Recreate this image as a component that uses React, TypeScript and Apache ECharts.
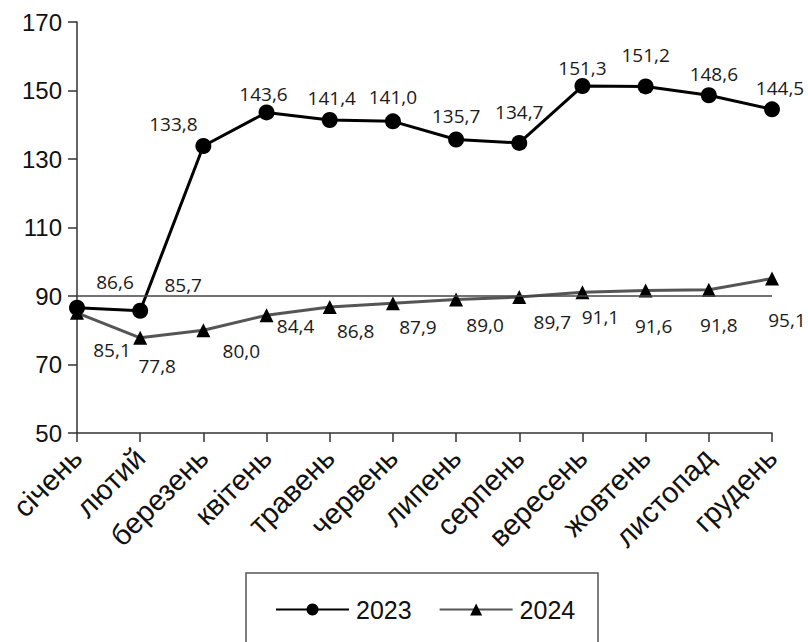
import React, { useEffect, useRef } from "react";
import * as echarts from "echarts";

const months = [
  "січень", "лютий", "березень", "квітень", "травень", "червень",
  "липень", "серпень", "вересень", "жовтень", "листопад", "грудень",
];
const values2023 = [86.6, 85.7, 133.8, 143.6, 141.4, 141.0, 135.7, 134.7, 151.3, 151.2, 148.6, 144.5];
const values2024 = [85.1, 77.8, 80.0, 84.4, 86.8, 87.9, 89.0, 89.7, 91.1, 91.6, 91.8, 95.1];
const referenceLevel = 90;
const yTicks = { min: 50, max: 170, interval: 20 };

// label placement offsets (style only)
const off2023: [number, number][] = [
  [38, -26], [43, -26], [-30, -22], [-3, -18], [2, -22], [0, -24],
  [0, -23], [0, -31], [0, -18], [0, -31], [5, -21], [8, -21],
];
const off2024: [number, number][] = [
  [35, 37], [17, 28], [38, 21], [29, 11], [26, 24], [25, 24],
  [29, 26], [33, 25], [18, 25], [8, 35], [10, 35], [15, 41],
];

const fmt = (v: number) => v.toFixed(1).replace(".", ",");

export default function App() {
  const ref = useRef<HTMLDivElement>(null);
  useEffect(() => {
    document.body.style.margin = "0";
    const chart = echarts.init(ref.current!, undefined, { renderer: "svg" });
    const labelBase = {
      show: true,
      position: "inside" as const,
      fontFamily: "Open Sans",
      fontSize: 19,
      color: "#1a1a1a",
      formatter: (p: any) => fmt(p.value),
    };
    chart.setOption({
      animation: false,
      backgroundColor: "#fff",
      grid: { left: 77, right: 36, top: 22, bottom: 209, containLabel: false },
      xAxis: {
        type: "category",
        data: months,
        boundaryGap: false,
        axisLine: { lineStyle: { color: "#333", width: 1.5 } },
        axisTick: { show: true, alignWithLabel: true, length: 9, lineStyle: { color: "#333", width: 1.5 } },
        axisLabel: {
          rotate: 45,
          interval: 0,
          margin: 20,
          fontFamily: "Liberation Sans",
          fontSize: 29,
          color: "#111",
        },
        splitLine: { show: false },
      },
      yAxis: {
        type: "value",
        min: yTicks.min,
        max: yTicks.max,
        interval: yTicks.interval,
        axisLine: { show: true, lineStyle: { color: "#333", width: 1.5 } },
        axisTick: { show: true, length: 9, lineStyle: { color: "#333", width: 1.5 } },
        axisLabel: {
          margin: 15,
          fontFamily: "Liberation Sans",
          fontSize: 24,
          color: "#111",
        },
        splitLine: { show: false },
      },
      legend: {
        left: 270,
        top: 592,
        itemWidth: 73,
        itemHeight: 15,
        itemGap: 27,
        textStyle: { fontFamily: "Liberation Sans", fontSize: 25, color: "#111", padding: [0, 0, 0, 2] },
        data: ["2023", "2024"],
      },
      graphic: [
        {
          type: "rect",
          shape: { x: 246, y: 573, width: 352, height: 90 },
          style: { fill: "none", stroke: "#555", lineWidth: 1.5 },
          silent: true,
        },
      ],
      series: [
        {
          name: "2023",
          type: "line",
          data: values2023.map((v, i) => ({ value: v, label: { offset: off2023[i] } })),
          symbol: "circle",
          symbolSize: 16,
          itemStyle: { color: "#000" },
          lineStyle: { color: "#000", width: 3 },
          label: labelBase,
          z: 3,
        },
        {
          name: "2024",
          type: "line",
          data: values2024.map((v, i) => ({ value: v, label: { offset: off2024[i] } })),
          symbol: "triangle",
          symbolSize: [14, 14],
          itemStyle: { color: "#000" },
          lineStyle: { color: "#555", width: 3 },
          label: labelBase,
          z: 2,
          markLine: {
            silent: true,
            symbol: ["none", "none"],
            label: { show: false },
            lineStyle: { color: "#444", width: 1.5, type: "solid" },
            data: [{ yAxis: referenceLevel }],
          },
        },
      ],
    });
    return () => chart.dispose();
  }, []);
  return <div ref={ref} style={{ width: 808, height: 642 }} />;
}
